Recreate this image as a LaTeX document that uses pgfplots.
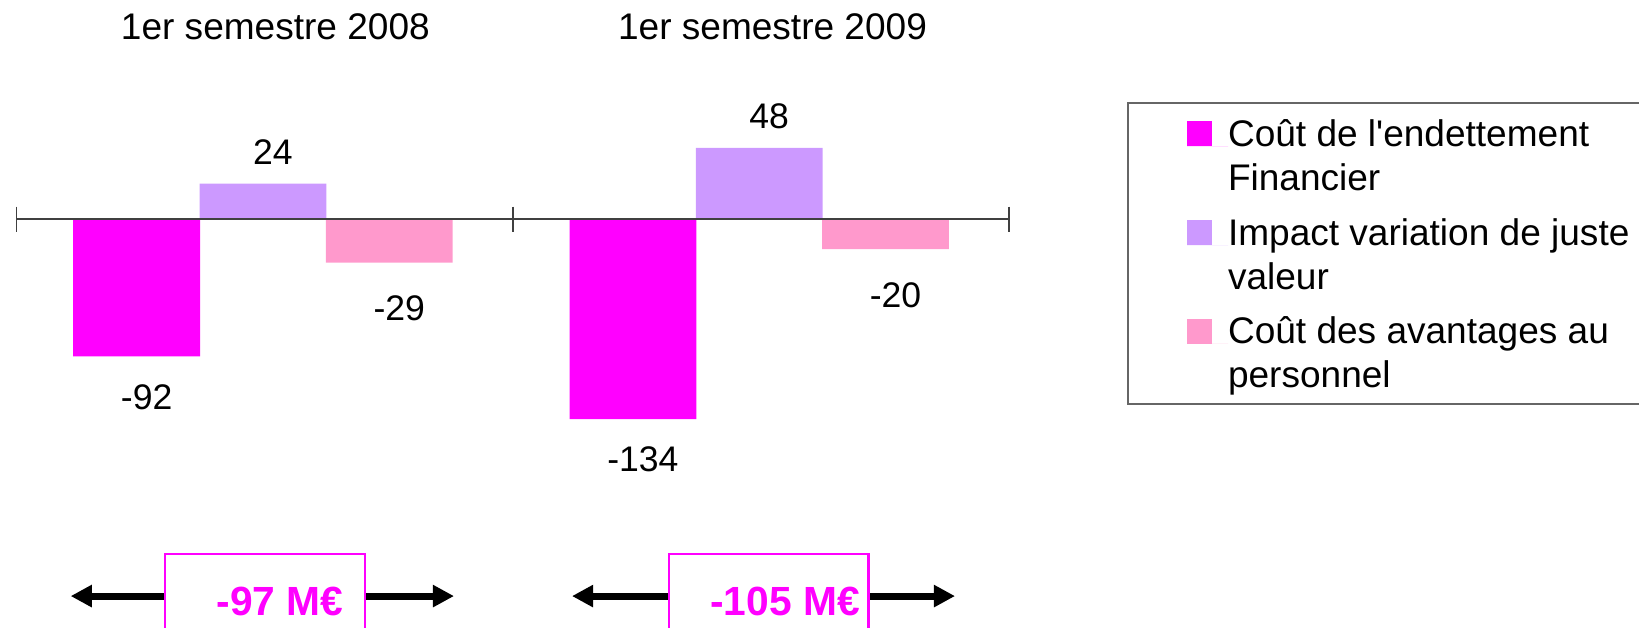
\documentclass[border=0pt]{standalone}
\usepackage{pgfplots}
\pgfplotsset{compat=1.18}
\usetikzlibrary{arrows.meta}
\usepackage{fontspec}
\setmainfont{Liberation Sans}
\definecolor{cmag}{HTML}{FF00FF}
\definecolor{clav}{HTML}{CC99FF}
\definecolor{cpink}{HTML}{FF99CC}
\newcommand\topstrut{\rule{0pt}{10.7pt}}
\newcommand\botstrut{\rule[-3.24pt]{0pt}{3.24pt}}
\begin{document}
\begin{tikzpicture}[font=\fontsize{10}{11.9}\selectfont]
\path[use as bounding box, clip] (0,0) rectangle (442.53pt,169.29pt);
\begin{axis}[
  at={(0,0)}, anchor=south west,
  scale only axis, width=442.53pt, height=169.29pt,
  xmin=-0.03325, xmax=3.26919, ymin=-273.56, ymax=147.25,
  hide axis,
  clip=false,
  legend style={at={(axis cs:2.2370,79.0)}, anchor=north west,
    draw=black!60, line width=0.6pt, inner xsep=16pt, inner ysep=1pt,
    row sep=0.86pt, column sep=0pt,
    font=\fontsize{10}{11.9}\selectfont,
    nodes={inner sep=0pt, text depth=, anchor=base west, align=left}},
  legend cell align=left,
  every node near coord/.append style={font=\fontsize{9.6}{11}\selectfont, inner sep=0pt, xshift=2.7pt},
  nodes near coords={\pgfmathprintnumber[assume math mode=true]{\pgfplotspointmeta}},
]
\addplot[ybar, bar width=0.2555, bar shift=0pt, fill=cmag, draw=none,
  every node near coord/.append style={yshift=-7.35pt},
  legend image code/.code={\fill[cmag] (0pt,11.9pt) rectangle (6.75pt,18.65pt); \path (0pt,11.9pt) -- (11.05pt,11.9pt);}]
  coordinates {(0.242,-92) (1.242,-134)};
\addlegendentry{\topstrut Coût de l\textquotesingle endettement\\Financier\botstrut}
\addplot[ybar, bar width=0.2555, bar shift=0pt, fill=clav, draw=none,
  every node near coord/.append style={yshift=5.05pt},
  legend image code/.code={\fill[clav] (0pt,11.9pt) rectangle (6.75pt,18.65pt); \path (0pt,11.9pt) -- (11.05pt,11.9pt);}]
  coordinates {(0.4965,24) (1.4965,48)};
\addlegendentry{\topstrut Impact variation de juste\\valeur\botstrut}
\addplot[ybar, bar width=0.2555, bar shift=0pt, fill=cpink, draw=none,
  every node near coord/.append style={yshift=-8.85pt},
  legend image code/.code={\fill[cpink] (0pt,11.9pt) rectangle (6.75pt,18.65pt); \path (0pt,11.9pt) -- (11.05pt,11.9pt);}]
  coordinates {(0.751,-29) (1.751,-20)};
\addlegendentry{\topstrut Coût des avantages au\\personnel\botstrut}
% axis line with ticks
\draw[black!75, line width=0.5pt] (axis cs:0,0) -- (axis cs:2,0);
\draw[black!75, line width=0.4pt] (axis cs:0,8.6) -- (axis cs:0,-8.6);
\draw[black!75, line width=0.4pt] (axis cs:1,8.6) -- (axis cs:1,-8.6);
\draw[black!75, line width=0.4pt] (axis cs:2,8.6) -- (axis cs:2,-8.6);
% group titles
\node at (axis cs:0.5216,129.0) {1er semestre 2008};
\node at (axis cs:1.5233,129.0) {1er semestre 2009};
% totals
\draw[line width=1.9pt, {Triangle[length=5.7pt,width=5.7pt]}-{Triangle[length=5.7pt,width=5.7pt]}] (axis cs:0.1092,-252.8) -- (axis cs:0.8815,-252.8);
\draw[line width=1.9pt, {Triangle[length=5.7pt,width=5.7pt]}-{Triangle[length=5.7pt,width=5.7pt]}] (axis cs:1.1193,-252.8) -- (axis cs:1.8910,-252.8);
\draw[cmag, line width=0.6pt, fill=white] (axis cs:0.2992,-224.6) rectangle (axis cs:0.7022,-300);
\draw[cmag, line width=0.6pt, fill=white] (axis cs:1.3147,-224.6) rectangle (axis cs:1.7169,-300);
\node[text=cmag, font=\bfseries\fontsize{11}{13}\selectfont] at (axis cs:0.5309,-256.5) {-97 M€};
\node[text=cmag, font=\bfseries\fontsize{11}{13}\selectfont] at (axis cs:1.5485,-256.5) {-105 M€};
\end{axis}
\end{tikzpicture}
\end{document}
